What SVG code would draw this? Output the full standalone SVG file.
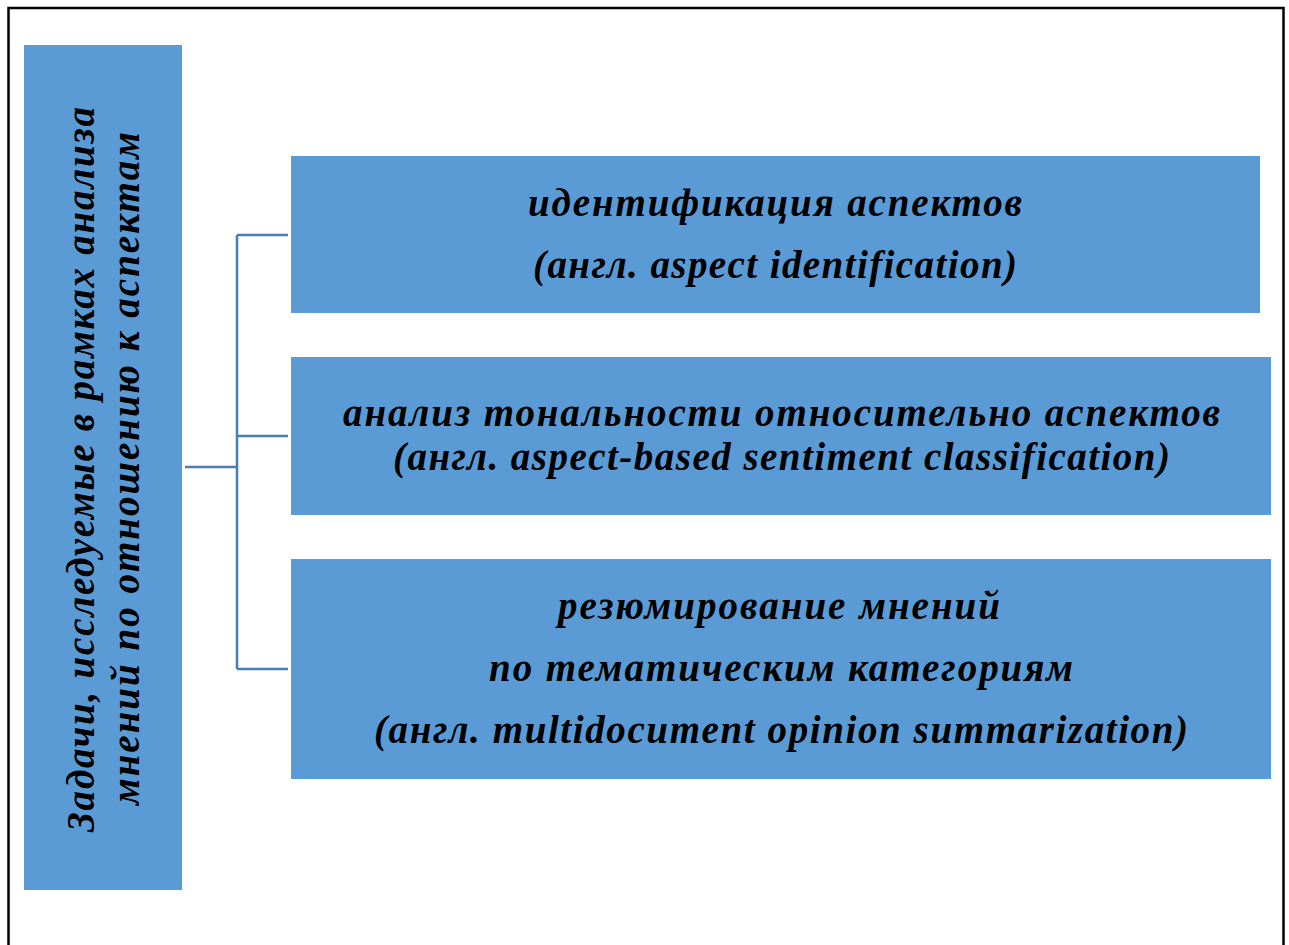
<svg xmlns="http://www.w3.org/2000/svg" width="1289" height="945" viewBox="0 0 1289 945">
<style>
.box{fill:#5B9BD5;}
.t{font-family:"Liberation Serif","Times New Roman",serif;font-weight:bold;font-style:italic;font-size:39px;fill:#000;text-anchor:middle;}
.c{stroke:#4A7EB3;stroke-width:2.5;fill:none;}
</style>
<rect x="0" y="0" width="1289" height="945" fill="#fff"/>
<rect x="8.5" y="8" width="1275" height="945" fill="none" stroke="#000" stroke-width="2.5"/>
<g id="root">
<rect class="box" x="24" y="45" width="158" height="845"/>
<text class="t" transform="translate(94,469.5) rotate(-90)" textLength="725" lengthAdjust="spacing">Задачи, исследуемые в рамках анализа</text>
<text class="t" transform="translate(139,468.5) rotate(-90)" textLength="673" lengthAdjust="spacing">мнений по отношению к аспектам</text>
</g>
<g id="n1">
<rect class="box" x="291" y="156" width="969" height="157"/>
<text class="t" x="775" y="216" textLength="494" lengthAdjust="spacing">идентификация аспектов</text>
<text class="t" x="775" y="278" textLength="484" lengthAdjust="spacing">(англ. aspect identification)</text>
</g>
<g id="n2">
<rect class="box" x="291" y="357" width="980" height="158"/>
<text class="t" x="781.5" y="426" textLength="877" lengthAdjust="spacing">анализ тональности относительно аспектов</text>
<text class="t" x="781.5" y="470" textLength="777" lengthAdjust="spacing">(англ. aspect-based sentiment classification)</text>
</g>
<g id="n3">
<rect class="box" x="291" y="559" width="980" height="220"/>
<text class="t" x="779" y="619" textLength="442" lengthAdjust="spacing">резюмирование мнений</text>
<text class="t" x="781" y="681" textLength="584" lengthAdjust="spacing">по тематическим категориям</text>
<text class="t" x="781" y="743" textLength="814" lengthAdjust="spacing">(англ. multidocument opinion summarization)</text>
</g>
<g id="connectors">
<path class="c" d="M185 467 H237 M237 235 V669 M237 235 H288 M237 436 H288 M237 669 H288"/>
</g>
</svg>
